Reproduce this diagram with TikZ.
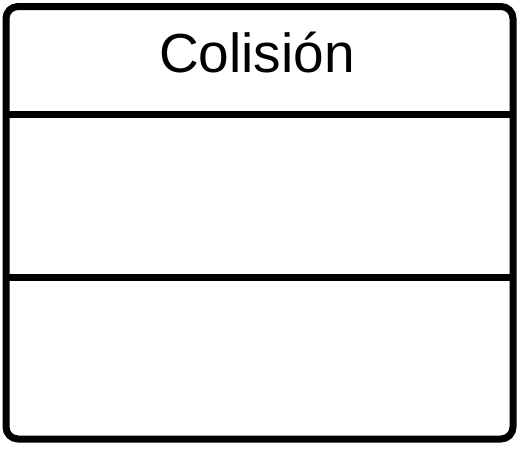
\documentclass[tikz,border=0pt]{standalone}
\usepackage{fontspec}
\setmainfont{Liberation Sans}
\begin{document}
\begin{tikzpicture}[x=1pt,y=-1pt,
  frame/.style={draw=black,line width=7pt,rounded corners=12pt},
  sep/.style={draw=black,line width=7pt},
  title/.style={font=\fontsize{55}{60}\selectfont,anchor=base,inner sep=0pt}]
\useasboundingbox (0,0) rectangle (520,448);
\draw[frame] (6,6.5) rectangle (513,439);
\coordinate (l1) at (6,114); \coordinate (r1) at (513,114);
\coordinate (l2) at (6,277.5); \coordinate (r2) at (513,277.5);
\draw[sep] (l1) -- (r1);
\draw[sep] (l2) -- (r2);
\node[title] (t) at (257,72) {Colisión};
\end{tikzpicture}
\end{document}
